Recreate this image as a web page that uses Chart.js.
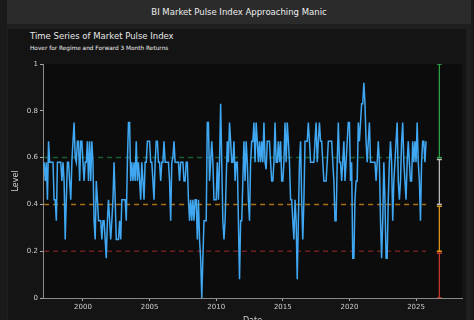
<!DOCTYPE html>
<html>
<head>
<meta charset="utf-8">
<script src="https://cdn.jsdelivr.net/npm/chart.js@4.4.1/dist/chart.umd.min.js"></script>
<style>
  html, body { margin: 0; padding: 0; width: 474px; height: 320px; overflow: hidden; background: #1a1a1a; font-family: "DejaVu Sans", sans-serif; }
  #frame { position: absolute; left: 7px; top: 0; width: 464px; height: 320px; background: #1f1f1f; }
  #header { position: absolute; left: 7px; top: 0; width: 464px; height: 24px; background: #2b2b2b; color: #eeeeee; font-size: 8.5px; line-height: 24px; text-align: center; }
  #card { position: absolute; left: 8px; top: 29px; width: 458px; height: 291px; background: #141414; }
  #title { position: absolute; left: 30px; top: 31px; color: #e8e8e8; font-size: 8.5px; }
  #subtitle { position: absolute; left: 30px; top: 45px; color: #f0f0f0; font-size: 5.8px; }
  #chart { position: absolute; left: 0; top: 0; }
</style>
</head>
<body>
<div id="frame"></div>
<div id="header">BI Market Pulse Index Approaching Manic</div>
<div id="card"></div>
<div id="title">Time Series of Market Pulse Index</div>
<div id="subtitle">Hover for Regime and Forward 3 Month Returns</div>
<canvas id="chart" width="474" height="330"></canvas>
<script>
// monthly index level, Feb 1997 .. Oct 2025
const firstYear = 1997;
const firstMonth = 2;
const levels = [
  0.58, 0.5, 0.58, 0.42, 0.67, 0.58, 0.58, 0.58, 0.58, 0.42, 0.42, 0.33,
  0.58, 0.58, 0.58, 0.58, 0.5, 0.58, 0.5, 0.25, 0.42, 0.58, 0.58, 0.5,
  0.42, 0.58, 0.67, 0.75, 0.6, 0.58, 0.67, 0.67, 0.5, 0.67, 0.67, 0.58,
  0.5, 0.58, 0.58, 0.67, 0.5, 0.67, 0.5, 0.67, 0.58, 0.33, 0.25, 0.5,
  0.42, 0.33, 0.33, 0.33, 0.25, 0.33, 0.33, 0.25, 0.17, 0.33, 0.42, 0.33,
  0.25, 0.33, 0.42, 0.58, 0.42, 0.25, 0.25, 0.25, 0.33, 0.25, 0.42, 0.42,
  0.42, 0.42, 0.33, 0.58, 0.75, 0.75, 0.5, 0.58, 0.5, 0.58, 0.5, 0.67,
  0.5, 0.58, 0.5, 0.42, 0.58, 0.5, 0.42, 0.58, 0.58, 0.67, 0.67, 0.67,
  0.58, 0.58, 0.5, 0.42, 0.58, 0.67, 0.67, 0.58, 0.58, 0.5, 0.58, 0.58,
  0.67, 0.58, 0.58, 0.58, 0.58, 0.5, 0.33, 0.58, 0.6, 0.67, 0.58, 0.58,
  0.58, 0.58, 0.5, 0.58, 0.58, 0.58, 0.5, 0.5, 0.58, 0.58, 0.42, 0.33,
  0.42, 0.33, 0.42, 0.33, 0.42, 0.42, 0.25, 0.42, 0.25, 0.17, 0, 0.17,
  0.33, 0.33, 0.33, 0.75, 0.75, 0.5, 0.58, 0.67, 0.58, 0.42, 0.42, 0.42,
  0.58, 0.42, 0.58, 0.83, 0.58, 0.33, 0.25, 0.33, 0.5, 0.67, 0.58, 0.75,
  0.67, 0.58, 0.58, 0.67, 0.5, 0.58, 0.58, 0.33, 0.08, 0.33, 0.33, 0.5,
  0.67, 0.5, 0.67, 0.58, 0.42, 0.33, 0.58, 0.67, 0.67, 0.75, 0.58, 0.75,
  0.67, 0.58, 0.67, 0.58, 0.67, 0.58, 0.75, 0.58, 0.55, 0.67, 0.67, 0.67,
  0.58, 0.5, 0.5, 0.58, 0.75, 0.58, 0.58, 0.67, 0.58, 0.67, 0.5, 0.5,
  0.58, 0.75, 0.58, 0.75, 0.67, 0.58, 0.42, 0.42, 0.33, 0.25, 0.42, 0.33,
  0.08, 0.33, 0.58, 0.67, 0.42, 0.25, 0.42, 0.67, 0.67, 0.67, 0.75, 0.67,
  0.58, 0.58, 0.58, 0.58, 0.67, 0.75, 0.58, 0.67, 0.75, 0.67, 0.67, 0.58,
  0.5, 0.5, 0.5, 0.58, 0.67, 0.67, 0.67, 0.67, 0.58, 0.5, 0.33, 0.33,
  0.58, 0.75, 0.58, 0.58, 0.5, 0.58, 0.67, 0.5, 0.58, 0.67, 0.75, 0.75,
  0.5, 0.58, 0.17, 0.17, 0.42, 0.5, 0.5, 0.75, 0.67, 0.75, 0.83, 0.83,
  0.92, 0.83, 0.67, 0.58, 0.67, 0.75, 0.58, 0.58, 0.58, 0.58, 0.58, 0.5,
  0.58, 0.67, 0.58, 0.33, 0.17, 0.33, 0.58, 0.42, 0.17, 0.17, 0.42, 0.58,
  0.67, 0.58, 0.33, 0.5, 0.58, 0.67, 0.75, 0.5, 0.42, 0.5, 0.67, 0.75,
  0.58, 0.5, 0.42, 0.58, 0.67, 0.58, 0.5, 0.5, 0.67, 0.58, 0.67, 0.58,
  0.75, 0.58, 0.5, 0.33, 0.58, 0.67, 0.67, 0.58, 0.67
];

// regime thresholds drawn as dashed lines
const thresholds = [0.6, 0.4, 0.2];
// regime bands shown as the bar on the right
const regimeTop = [1, 0.6, 0.4, 0.2];
const regimeBottom = [0.6, 0.4, 0.2, 0];
const regimeBarYear = 2026.75;

const xTicks = [2000, 2005, 2010, 2015, 2020, 2025];
const yTicks = [0, 0.2, 0.4, 0.6, 0.8, 1];

const dates = levels.map((v, i) => firstYear + (firstMonth - 1 + i) / 12);
const thresholdColors = ['#1c5e2e', '#a8700f', '#6e2020'];
const regimeColors = ['#2fa64a', '#c4c4c4', '#e39b1b', '#cf3a30'];
const capGap = 0.008;

const datasets = [{
  label: 'Level',
  data: levels.map((v, i) => ({ x: dates[i], y: v })),
  borderColor: '#40a8f2',
  borderWidth: 1.5,
  pointRadius: 0,
  tension: 0
}];

thresholds.forEach((t, i) => {
  datasets.push({
    data: [{ x: dates[0], y: t }, { x: dates[dates.length - 1], y: t }],
    borderColor: thresholdColors[i],
    borderWidth: 1.5,
    borderDash: [5, 4],
    pointRadius: 0
  });
});

regimeTop.forEach((top, i) => {
  datasets.push({
    data: [
      { x: regimeBarYear, y: i === 0 ? top : top - capGap },
      { x: regimeBarYear, y: regimeBottom[i] }
    ],
    borderColor: regimeColors[i],
    borderWidth: 1.2,
    pointStyle: 'line',
    pointRadius: 2.5,
    pointBorderWidth: 1.5,
    pointBorderColor: regimeColors[i]
  });
});

const plotBg = {
  id: 'plotBg',
  beforeDraw(chart) {
    const a = chart.chartArea;
    const ctx = chart.ctx;
    ctx.save();
    ctx.fillStyle = '#0c0c0c';
    ctx.fillRect(a.left, a.top, a.right - a.left, a.bottom - a.top);
    ctx.restore();
  }
};

const tickFont = { family: 'DejaVu Sans', size: 7 };

new Chart(document.getElementById('chart').getContext('2d'), {
  type: 'line',
  data: { datasets },
  options: {
    responsive: false,
    animation: false,
    devicePixelRatio: 1,
    layout: { padding: { top: 64, left: 7, right: 12, bottom: 0 } },
    plugins: { legend: { display: false }, tooltip: { enabled: false } },
    scales: {
      x: {
        type: 'linear',
        min: 1997,
        max: 2028.45,
        afterBuildTicks: s => { s.ticks = xTicks.map(v => ({ value: v })); },
        afterFit: s => { s.height = 32; },
        grid: { drawOnChartArea: false, tickLength: 3, color: '#aaaaaa' },
        border: { color: '#8a8a8a', width: 1 },
        ticks: { color: '#cfcfcf', font: tickFont, padding: 2, maxRotation: 0, callback: v => String(v) },
        title: { display: true, text: 'Date', color: '#cfcfcf', font: { family: 'DejaVu Sans', size: 8 } }
      },
      y: {
        min: 0,
        max: 1,
        afterBuildTicks: s => { s.ticks = yTicks.map(v => ({ value: v })); },
        afterFit: s => { s.width = 36; },
        grid: { drawOnChartArea: false, tickLength: 3, color: '#aaaaaa' },
        border: { color: '#8a8a8a', width: 1 },
        ticks: { color: '#cfcfcf', font: tickFont, padding: 2, callback: v => String(v) },
        title: { display: true, text: 'Level', color: '#cfcfcf', font: { family: 'DejaVu Sans', size: 8 } }
      }
    }
  },
  plugins: [plotBg]
});
</script>
</body>
</html>
